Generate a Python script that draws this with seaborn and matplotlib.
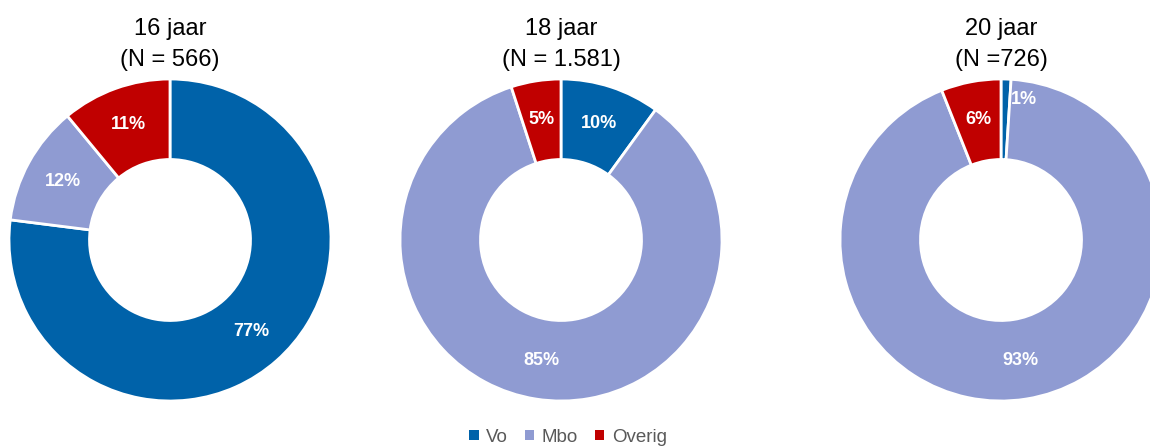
import seaborn as sns
import matplotlib.pyplot as plt
from matplotlib.patches import Patch

categories = ['Vo', 'Mbo', 'Overig']
titles = ['16 jaar\n(N = 566)', '18 jaar\n(N = 1.581)', '20 jaar\n(N =726)']
vals_16 = [77, 12, 11]
vals_18 = [10, 85, 5]
vals_20 = [1, 93, 6]
colors = ['#0062A9', '#8F9BD2', '#C00000']

sns.set_theme(style='white')
plt.rcParams['font.family'] = ['Liberation Sans', 'DejaVu Sans']

W, H = 1150, 448
fig = plt.figure(figsize=(W / 100, H / 100), dpi=100)

R = 161
centers = [170, 561, 1001]
cy = 240
for cx, vals, title in zip(centers, [vals_16, vals_18, vals_20], titles):
    ax = fig.add_axes([(cx - R) / W, (H - cy - R) / H, 2 * R / W, 2 * R / H])
    wedges, texts, autotexts = ax.pie(
        vals, colors=colors, startangle=90, counterclock=False, radius=1,
        autopct=lambda p: f'{round(p)}%', pctdistance=0.76,
        wedgeprops=dict(width=0.5, edgecolor='white', linewidth=2))
    for t in autotexts:
        t.set_color('white')
        t.set_fontweight('bold')
        t.set_fontsize(13)
    if vals[0] < 3:
        autotexts[0].set_position((0.14, 0.87))
    ax.set_xlim(-1, 1)
    ax.set_ylim(-1, 1)
    ax.set_aspect('equal')
    ax.axis('off')
    ax.text(0, 1.05, title, ha='center', va='bottom', fontsize=17,
            color='black', linespacing=1.55)

handles = [Patch(facecolor=c, edgecolor='none') for c in colors]
fig.legend(handles, categories, loc='center', bbox_to_anchor=(568 / W, 1 - 437 / H),
           ncol=3, frameon=False, fontsize=13.5, handlelength=0.5, handleheight=0.5,
           handletextpad=0.4, columnspacing=0.9, labelcolor='#595959')

fig.savefig('out.png', dpi=100)
